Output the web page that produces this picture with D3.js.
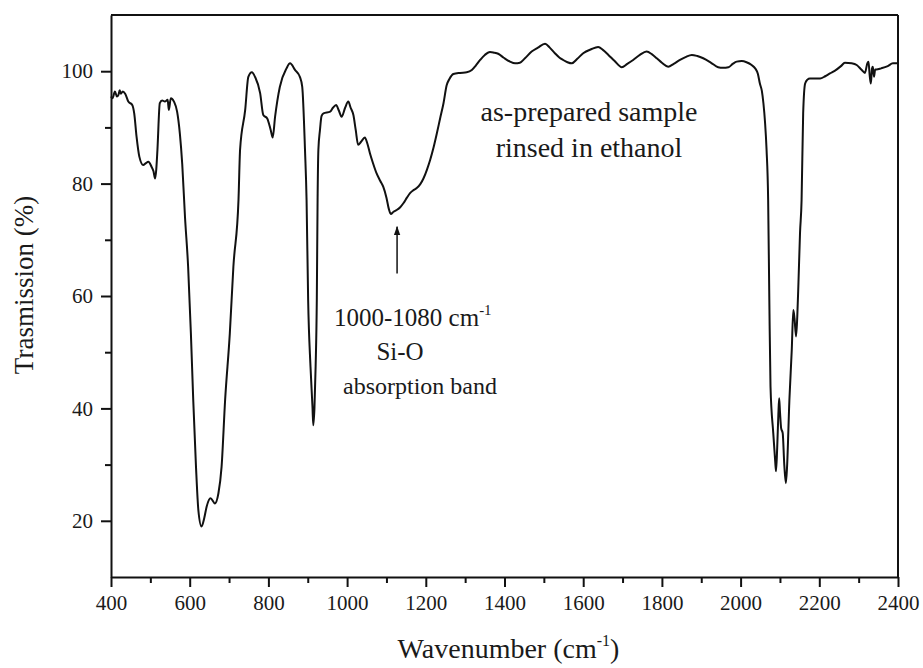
<!DOCTYPE html>
<html>
<head>
<meta charset="utf-8">
<script src="https://cdn.jsdelivr.net/npm/d3@7"></script>
<style>
  html, body { margin: 0; padding: 0; background: #fff; }
</style>
</head>
<body>
<svg id="chart" width="923" height="668"></svg>
<script>
// FTIR spectrum: wavenumber (cm^-1) and transmission (%)
const wavenumber = [
  400, 404, 410, 415, 419, 422, 425, 430, 436, 444, 454, 459, 465, 472, 482, 488, 495, 503, 508, 512,
  515, 518, 524, 530, 537, 544, 547, 552, 560, 568, 575, 581, 588, 596, 603, 609, 616, 622, 630, 637,
  643, 653, 664, 673, 681, 690, 702, 711, 724, 728, 741, 749, 758, 766, 779, 787, 797, 806, 811, 817,
  829, 846, 855, 868, 880, 886, 893, 897, 901, 907, 912, 914, 917, 920, 923, 925, 927, 931, 935, 940,
  957, 964, 972, 979, 986, 995, 1003, 1009, 1016, 1022, 1028, 1036, 1045, 1052, 1058, 1066, 1075, 1084, 1092, 1100,
  1106, 1111, 1118, 1126, 1135, 1143, 1152, 1160, 1168, 1177, 1186, 1194, 1203, 1211, 1220, 1228, 1237, 1245, 1253, 1260,
  1270, 1287, 1304, 1317, 1327, 1338, 1350, 1363, 1373, 1384, 1398, 1414, 1427, 1439, 1452, 1469, 1485, 1503, 1515, 1528,
  1540, 1549, 1560, 1571, 1585, 1600, 1620, 1638, 1650, 1664, 1680, 1698, 1712, 1727, 1744, 1761, 1775, 1787, 1800, 1816,
  1830, 1846, 1860, 1876, 1890, 1905, 1925, 1943, 1955, 1969, 1980, 1990, 2003, 2015, 2028, 2037, 2044, 2049, 2054, 2058,
  2062, 2066, 2070, 2073, 2076, 2083, 2088, 2090, 2093, 2096, 2098, 2100, 2103, 2107, 2111, 2115, 2118, 2124, 2130, 2134,
  2137, 2141, 2144, 2147, 2151, 2155, 2159, 2164, 2170, 2176, 2190, 2202, 2215, 2227, 2240, 2255, 2265, 2282, 2295, 2308,
  2316, 2322, 2325, 2328, 2331, 2334, 2336, 2339, 2342, 2345, 2357, 2374, 2387, 2400
];
const transmission = [
  95.5, 95.2, 96.4, 95.5, 95.8, 96.6, 96.0, 96.4, 96.0, 94.6, 94.0, 92.5, 88.3, 84.8, 83.3, 83.6, 83.9, 83.0, 82.2, 80.9,
  82.5, 86.0, 94.3, 94.8, 94.6, 94.9, 93.1, 95.2, 94.6, 92.8, 88.9, 83.5, 74.1, 65.2, 53.4, 41.5, 29.6, 21.9, 19.0, 20.5,
  22.5, 24.0, 23.1, 24.9, 29.6, 41.5, 53.4, 65.2, 77.1, 86.0, 93.1, 99.0, 99.8, 99.0, 96.1, 92.2, 91.6, 89.5, 88.2, 91.9,
  97.2, 100.5, 101.4, 100.2, 99.0, 97.2, 86.0, 77.1, 59.3, 47.4, 40.3, 37.0, 40.0, 47.4, 59.3, 77.1, 86.0, 89.5, 92.0, 92.5,
  92.8, 93.5, 94.0, 93.0, 91.9, 93.5, 94.6, 93.5, 92.2, 89.5, 86.9, 87.5, 88.2, 87.0, 85.4, 83.6, 81.8, 80.5, 79.4, 77.5,
  75.5, 74.6, 75.0, 75.3, 75.8, 76.5, 77.5, 78.3, 78.8, 79.2, 79.9, 80.9, 82.5, 84.2, 86.5, 88.9, 91.8, 94.3, 97.5, 98.6,
  99.5, 99.7, 99.8, 100.2, 101.0, 102.0, 102.9, 103.4, 103.3, 103.1, 102.4, 101.7, 101.4, 101.5, 102.3, 103.5, 104.2, 104.9, 104.2, 103.2,
  102.4, 102.0, 101.6, 101.4, 102.2, 103.2, 103.9, 104.3, 103.8, 102.9, 101.8, 100.7, 101.3, 102.0, 102.9, 103.5, 103.0, 102.3, 101.5, 100.8,
  101.3, 102.0, 102.5, 102.9, 102.7, 102.3, 101.5, 100.7, 100.6, 100.7, 101.3, 101.7, 101.8, 101.6, 101.1, 100.5, 99.5, 97.8, 96.5, 94.3,
  91.0, 86.0, 77.1, 59.3, 43.9, 35.6, 30.5, 28.8, 33.0, 39.0, 41.8, 39.5, 36.5, 35.6, 30.0, 26.7, 29.5, 41.5, 50.4, 57.5,
  56.0, 52.8, 56.3, 62.3, 71.2, 77.1, 92.5, 97.8, 98.5, 98.7, 98.7, 98.7, 99.1, 99.6, 100.1, 100.9, 101.5, 101.4, 101.1, 100.2,
  99.7, 101.4, 101.7, 99.3, 97.8, 100.5, 100.8, 99.0, 100.3, 100.3, 100.5, 100.9, 101.4, 101.4
];

// Axis ticks
const xMajorTicks = [400, 600, 800, 1000, 1200, 1400, 1600, 1800, 2000, 2200, 2400];
const xMinorTicks = [500, 700, 900, 1100, 1300, 1500, 1700, 1900, 2100, 2300];
const yMajorTicks = [20, 40, 60, 80, 100];
const yMinorTicks = [30, 50, 70, 90];

const xDomain = [400, 2400];
const yDomain = [10, 110];

const serif = "Liberation Serif";
const ink = "#1a1a1a";

const svg = d3.select("#chart");
const margin = { left: 111, right: 25, top: 15, bottom: 91 };
const W = 923, H = 668;

const x = d3.scaleLinear().domain(xDomain).range([margin.left, W - margin.right]);
const y = d3.scaleLinear().domain(yDomain).range([H - margin.bottom, margin.top]);

svg.append("rect").attr("width", W).attr("height", H).attr("fill", "#fff");

// Spectrum line
const data = wavenumber.map((w, i) => ({ w, t: transmission[i] }));
const line = d3.line().x(d => x(d.w)).y(d => y(d.t)).curve(d3.curveMonotoneX);
svg.append("path")
  .datum(data)
  .attr("d", line)
  .attr("fill", "none")
  .attr("stroke", "#111")
  .attr("stroke-width", 2)
  .attr("stroke-linejoin", "round");

// Axes: major ticks with labels, minor ticks without
svg.append("g")
  .attr("transform", `translate(0,${y(yDomain[0])})`)
  .call(d3.axisBottom(x).tickValues(xMajorTicks).tickSize(10).tickSizeOuter(0).tickPadding(8).tickFormat(d3.format("d")));
svg.append("g")
  .attr("transform", `translate(0,${y(yDomain[0])})`)
  .call(d3.axisBottom(x).tickValues(xMinorTicks).tickSize(6).tickSizeOuter(0).tickFormat(""))
  .select(".domain").remove();

svg.append("g")
  .attr("transform", `translate(${x(xDomain[0])},0)`)
  .call(d3.axisLeft(y).tickValues(yMajorTicks).tickSize(10).tickSizeOuter(0).tickPadding(8).tickFormat(d3.format("d")));
svg.append("g")
  .attr("transform", `translate(${x(xDomain[0])},0)`)
  .call(d3.axisLeft(y).tickValues(yMinorTicks).tickSize(6).tickSizeOuter(0).tickFormat(""))
  .select(".domain").remove();

svg.selectAll("g").attr("font-family", serif);
svg.selectAll(".tick line").attr("stroke", "#111").attr("stroke-width", 2);
svg.selectAll(".domain").attr("stroke", "#111").attr("stroke-width", 2);
svg.selectAll(".tick text")
  .attr("font-family", serif)
  .attr("font-size", 21)
  .attr("fill", ink);

// Top and right frame
svg.append("line")
  .attr("x1", x(xDomain[0])).attr("x2", x(xDomain[1]))
  .attr("y1", y(yDomain[1])).attr("y2", y(yDomain[1]))
  .attr("stroke", "#111").attr("stroke-width", 2);
svg.append("line")
  .attr("x1", x(xDomain[1])).attr("x2", x(xDomain[1]))
  .attr("y1", y(yDomain[1])).attr("y2", y(yDomain[0]))
  .attr("stroke", "#111").attr("stroke-width", 2);

// Axis titles
const xt = svg.append("text")
  .attr("x", (x(xDomain[0]) + x(xDomain[1])) / 2 + 4)
  .attr("y", 658)
  .attr("text-anchor", "middle")
  .attr("font-family", serif)
  .attr("font-size", 28)
  .attr("fill", ink);
xt.append("tspan").text("Wavenumber (cm");
xt.append("tspan").attr("font-size", 16).attr("dy", -12).text("-1");
xt.append("tspan").attr("dy", 12).text(")");

svg.append("text")
  .attr("transform", `translate(33,285) rotate(-90)`)
  .attr("text-anchor", "middle")
  .attr("font-family", serif)
  .attr("font-size", 27)
  .attr("fill", ink)
  .text("Trasmission (%)");

// Sample annotation
svg.append("text")
  .attr("x", 589).attr("y", 121)
  .attr("text-anchor", "middle").attr("font-family", serif).attr("font-size", 28).attr("fill", ink)
  .text("as-prepared sample");
svg.append("text")
  .attr("x", 589).attr("y", 157)
  .attr("text-anchor", "middle").attr("font-family", serif).attr("font-size", 28).attr("fill", ink)
  .text("rinsed in ethanol");

// Si-O band marker
const bandCenter = 1127;
svg.append("defs").append("marker")
  .attr("id", "arrowhead")
  .attr("viewBox", "0 0 10 10")
  .attr("refX", 9).attr("refY", 5)
  .attr("markerWidth", 6).attr("markerHeight", 6)
  .attr("orient", "auto")
  .append("path").attr("d", "M0,1.5 L10,5 L0,8.5 Z").attr("fill", "#111");
svg.append("line")
  .attr("x1", x(bandCenter)).attr("x2", x(bandCenter))
  .attr("y1", y(64)).attr("y2", y(72.3))
  .attr("stroke", "#111").attr("stroke-width", 1.5)
  .attr("marker-end", "url(#arrowhead)");

const t1 = svg.append("text")
  .attr("x", 334).attr("y", 326)
  .attr("font-family", serif).attr("font-size", 25).attr("fill", ink);
t1.append("tspan").text("1000-1080 cm");
t1.append("tspan").attr("font-size", 15).attr("dy", -11).text("-1");

svg.append("text")
  .attr("x", 400).attr("y", 360)
  .attr("text-anchor", "middle").attr("font-family", serif).attr("font-size", 25).attr("fill", ink)
  .text("Si-O");
svg.append("text")
  .attr("x", 420).attr("y", 394)
  .attr("text-anchor", "middle").attr("font-family", serif).attr("font-size", 24).attr("fill", ink)
  .text("absorption band");
</script>
</body>
</html>
